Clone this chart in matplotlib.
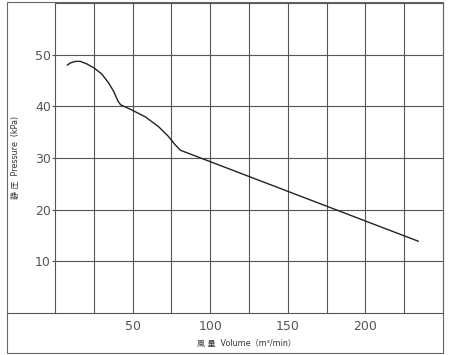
import matplotlib
matplotlib.use("Agg")
import matplotlib.pyplot as plt
from matplotlib.patches import Rectangle
from matplotlib.lines import Line2D

plt.rcParams["font.family"] = ["DejaVu Sans", "Noto Sans CJK JP"]

# 風量 (m3/min) / 静圧 (kPa)
volume = [8.0, 9.9, 13.1, 16.3, 20.6, 25.3, 30.3, 34.6, 37.8, 40.6, 42.3,
          49.4, 58.0, 66.6, 73.0, 77.3, 80.8, 234.0]
pressure = [48.0, 48.4, 48.7, 48.7, 48.2, 47.4, 46.2, 44.5, 42.9, 41.0, 40.3,
            39.3, 38.0, 36.1, 34.2, 32.6, 31.5, 13.9]

x_ticks = [50, 100, 150, 200]
y_ticks = [10, 20, 30, 40, 50]
x_grid = [25, 50, 75, 100, 125, 150, 175, 200, 225]
xlabel = "風 量  Volume（m³/min）"
ylabel = "静 圧  Pressure  (kPa)"

W, H = 450, 355
fig = plt.figure(figsize=(W / 100, H / 100), dpi=100)
ax = fig.add_axes([55 / W, (H - 313) / H, 388 / W, 310 / H])

ax.plot(volume, pressure, color="#222222", linewidth=1.0)
ax.set_xlim(0, 250)
ax.set_ylim(0, 60)

for v in x_grid:
    ax.axvline(v, color="#555555", linewidth=0.8, zorder=0)
for v in y_ticks:
    ax.axhline(v, color="#555555", linewidth=0.8, zorder=0)

ax.set_xticks(x_ticks)
ax.set_yticks(y_ticks)
ax.tick_params(axis="x", length=0, pad=5, labelsize=9, labelcolor="#555555")
ax.tick_params(axis="y", length=2.5, width=0.8, color="#555555", pad=0.5,
               labelsize=9, labelcolor="#555555")
for s in ax.spines.values():
    s.set_color("#555555")
    s.set_linewidth(0.8)

# outer frame and the base line running to the left edge
fig.patches.append(Rectangle((7 / W, 2 / H), 436 / W, 351 / H, transform=fig.transFigure,
                             fill=False, edgecolor="#666666", linewidth=0.8))
fig.lines.append(Line2D([7 / W, 55 / W], [(H - 313) / H] * 2, transform=fig.transFigure,
                        color="#555555", linewidth=0.8))

fig.text(246 / W, (H - 343) / H, xlabel, ha="center", va="center", fontsize=5.8,
         color="#333333", family=["DejaVu Sans", "Noto Sans CJK JP"])
fig.text(15 / W, (H - 157) / H, ylabel, ha="center", va="center", rotation=90,
         fontsize=5.8, color="#333333", family=["DejaVu Sans", "Noto Sans CJK JP"])

fig.savefig("out.png", dpi=100)
